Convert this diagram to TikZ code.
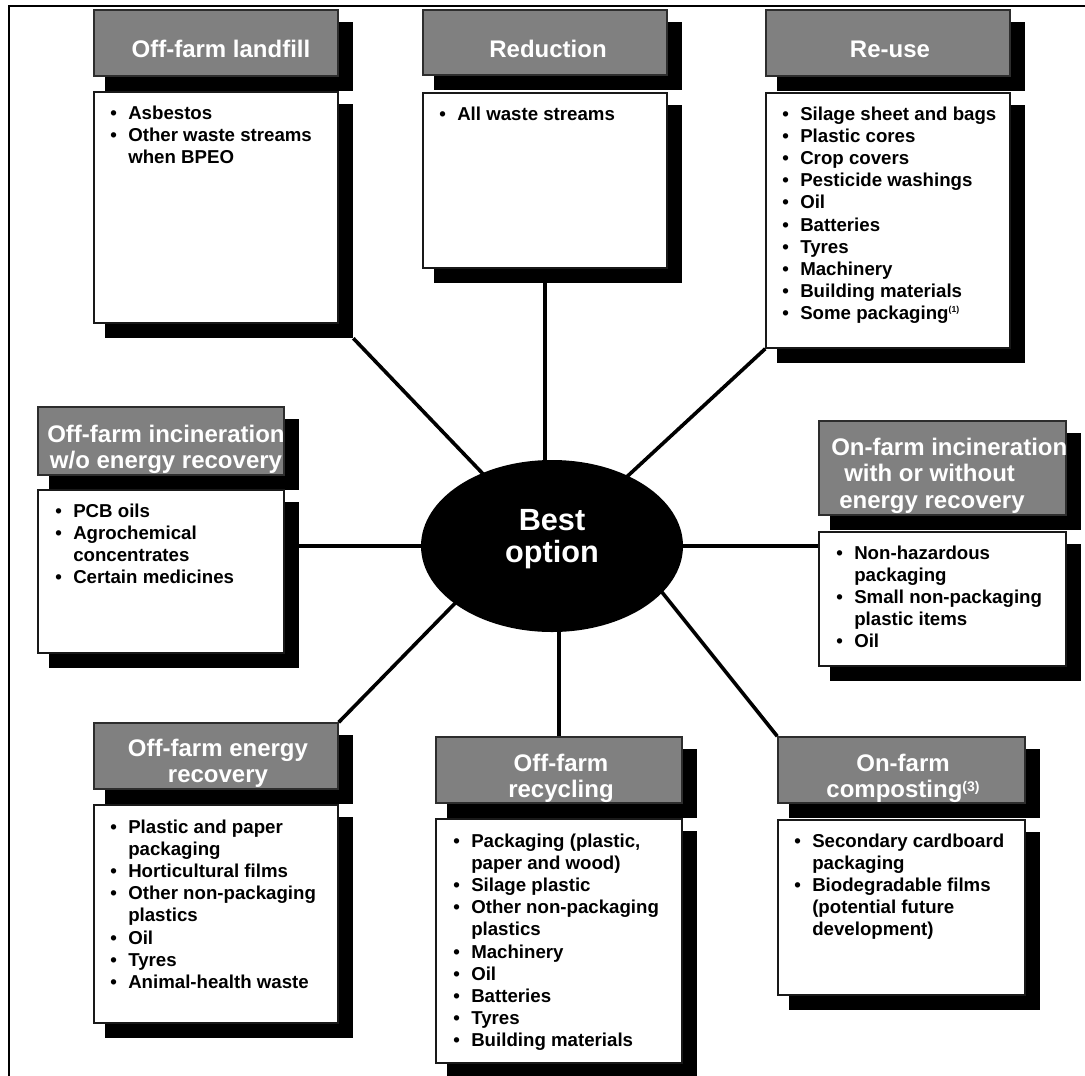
\documentclass[tikz,border=0pt]{standalone}
\usepackage{fontspec}
\setmainfont{Liberation Sans}
\usetikzlibrary{fit,shapes.geometric,backgrounds,calc}
\definecolor{headgray}{RGB}{128,128,128}
\definecolor{headline}{RGB}{45,45,45}
\definecolor{bodyline}{RGB}{25,25,25}
\newcommand\headfont{\bfseries\fontsize{18}{20}\selectfont}
\newcommand\bodyfont{\bfseries\fontsize{14}{16.65}\selectfont}
\newcommand\bi{\makebox[13.5pt][l]{\textbullet}}
\newcommand\cn{\hspace*{13.5pt}}
\tikzset{
  shadowbox/.style={fill=black, draw=none, inner sep=0pt},
  headbox/.style={fill=headgray, draw=headline, line width=1.1pt, inner sep=0pt},
  bodybox/.style={fill=white, draw=bodyline, line width=1.1pt, inner sep=0pt},
  headtext/.style={text=white, font=\headfont, inner sep=0pt, anchor=base},
  bodytext/.style={text=black, font=\bodyfont, inner sep=0pt, anchor=base west},
  link/.style={line width=2.7pt, draw=black},
  frameline/.style={line width=1.5pt, draw=black},
}
% #1 name, #2 x1, #3 x2, #4 header top, #5 header bottom, #6 body top, #7 body bottom
\newcommand\catbox[7]{%
  \node[shadowbox, fit={(#2+11,#4+12) (#3+15,#5+15)}] (#1-hs) {};
  \node[shadowbox, fit={(#2+11,#6+12) (#3+15,#7+15)}] (#1-bs) {};
  \node[headbox, fit={(#2,#4) (#3,#5)}] (#1-h) {};
  \node[bodybox, fit={(#2,#6) (#3,#7)}] (#1-b) {};
}
\begin{document}
\begin{tikzpicture}[x=0.75pt,y=-0.75pt]
\useasboundingbox (0,0) rectangle (1085,1075);
\clip (0,0) rectangle (1085,1075);

% frame (top and left only)
\draw[frameline] (9,1080) -- (9,6) -- (1090,6);

% category boxes
\catbox{lf}{94}{338}{10}{76}{92}{323}
\catbox{rd}{423}{667}{10}{75}{93}{268}
\catbox{ru}{766}{1010}{10}{76}{93}{348}
\catbox{ib}{38}{284}{407}{475}{490}{653}
\catbox{ob}{819}{1066}{421}{515}{532}{666}
\catbox{er}{94}{338}{723}{789}{805}{1023}
\catbox{rc}{436}{682}{737}{803}{819}{1063}
\catbox{cp}{778}{1025}{737}{803}{820}{995}

% central blob
\node[ellipse, fill=black, draw=none, inner sep=0pt,
      minimum width=196.5pt, minimum height=129pt] (best) at (552,546) {};
\node[text=white, font=\bfseries\fontsize{23}{24}\selectfont, inner sep=0pt, anchor=base]
  (bestlbl) at (552,530) {\begin{tabular}[t]{@{}c@{}}Best\\option\end{tabular}};
\coordinate (tl) at (511,546);
\coordinate (tr) at (625,546);

% header texts
\node[headtext] (lf-t) at (221,57) {Off-farm landfill};
\node[headtext] (rd-t) at (548,57) {Reduction};
\node[headtext] (ru-t) at (890,57) {Re-use};
\node[headtext] (ib-t) at (166,442) {\begin{tabular}[t]{@{}c@{}}Off-farm incineration\\w/o energy recovery\end{tabular}};
\node[headtext, anchor=base west] (ob-t) at (831,455) {\begin{tabular}[t]{@{}l@{}}On-farm incineration\\\hspace*{9.75pt}with or without\\\hspace*{6pt}energy recovery\end{tabular}};
\node[headtext] (er-t) at (218,756) {\begin{tabular}[t]{@{}c@{}}Off-farm energy\\recovery\end{tabular}};
\node[headtext] (rc-t) at (561,771) {\begin{tabular}[t]{@{}c@{}}Off-farm\\recycling\end{tabular}};
\node[headtext] (cp-t) at (903,771) {\begin{tabular}[t]{@{}c@{}}On-farm\\composting\raisebox{5pt}{\fontsize{10.5}{11}\selectfont(3)}\end{tabular}};

% body texts
\node[bodytext] (lf-l) at (110,119) {\begin{tabular}[t]{@{}l@{}}\bi Asbestos\\\bi Other waste streams\\\cn when BPEO\end{tabular}};
\node[bodytext] (rd-l) at (439,120) {\begin{tabular}[t]{@{}l@{}}\bi All waste streams\end{tabular}};
\node[bodytext] (ru-l) at (782,120) {\begin{tabular}[t]{@{}l@{}}\bi Silage sheet and bags\\\bi Plastic cores\\\bi Crop covers\\\bi Pesticide washings\\\bi Oil\\\bi Batteries\\\bi Tyres\\\bi Machinery\\\bi Building materials\\\bi Some packaging\raisebox{5.5pt}{\fontsize{6.5}{7}\selectfont(1)}\end{tabular}};
\node[bodytext] (ib-l) at (55,517) {\begin{tabular}[t]{@{}l@{}}\bi PCB oils\\\bi Agrochemical\\\cn concentrates\\\bi Certain medicines\end{tabular}};
\node[bodytext] (ob-l) at (836,559) {\begin{tabular}[t]{@{}l@{}}\bi Non-hazardous\\\cn packaging\\\bi Small non-packaging\\\cn plastic items\\\bi Oil\end{tabular}};
\node[bodytext] (er-l) at (110,833) {\begin{tabular}[t]{@{}l@{}}\bi Plastic and paper\\\cn packaging\\\bi Horticultural films\\\bi Other non-packaging\\\cn plastics\\\bi Oil\\\bi Tyres\\\bi Animal-health waste\end{tabular}};
\node[bodytext] (rc-l) at (453,847) {\begin{tabular}[t]{@{}l@{}}\bi Packaging (plastic,\\\cn paper and wood)\\\bi Silage plastic\\\bi Other non-packaging\\\cn plastics\\\bi Machinery\\\bi Oil\\\bi Batteries\\\bi Tyres\\\bi Building materials\end{tabular}};
\node[bodytext] (cp-l) at (794,847) {\begin{tabular}[t]{@{}l@{}}\bi Secondary cardboard\\\cn packaging\\\bi Biodegradable films\\\cn (potential future\\\cn development)\end{tabular}};

% connectors behind everything
\begin{scope}[on background layer]
  \fill[white] (0,0) rectangle (1085,1075);
  \draw[link] (lf-bs.south east) -- (best.center);
  \draw[link] (rd-b.south) -- (rd-b.south |- best.center);
  \draw[link] (ru-b.south west) -- (best.center);
  \draw[link] (ib-bs.east |- best.center) -- (best.center);
  \draw[link] (best.center) -- (best.center -| ob-b.west);
  \draw[link] (er-h.north east) -- (tl);
  \draw[link] (rc-h.north) -- (rc-h.north |- best.center);
  \draw[link] (cp-h.north west) -- (tr);
\end{scope}
\end{tikzpicture}
\end{document}
